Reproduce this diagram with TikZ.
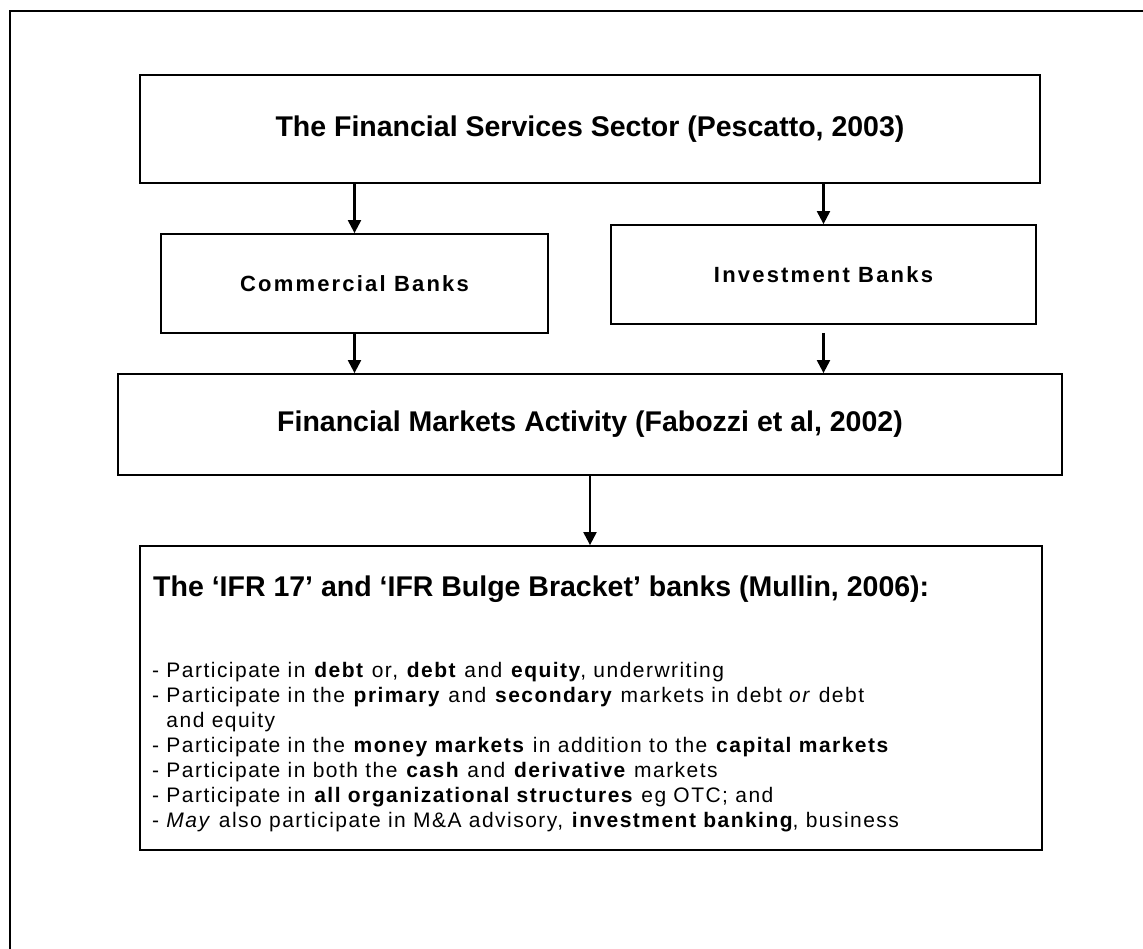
\documentclass[tikz,border=0pt]{standalone}
\usepackage{fontspec}
\setmainfont{Liberation Sans}
\usetikzlibrary{arrows.meta}
\begin{document}
\begin{tikzpicture}[x=1pt,y=-1pt,
  box/.style={draw,line width=1.8pt,rectangle,inner sep=0pt,align=center},
  arr/.style={line width=2.2pt,-{Triangle[width=13pt,length=13pt]}},
  big/.style={font=\bfseries\fontsize{28.5}{32}\selectfont},
  mid/.style={font=\bfseries\fontsize{22}{26}\selectfont\addfontfeature{LetterSpace=10}},
  head/.style={font=\bfseries\fontsize{28.5}{34}\selectfont},
  body/.style={font=\fontsize{21}{25}\selectfont\addfontfeature{LetterSpace=7},align=left,inner sep=0pt}]
\useasboundingbox (0,0) rectangle (1143,949);
\fill[white] (0,0) rectangle (1143,949);
\draw[line width=1.8pt] (10,949) -- (10,11) -- (1143,11);
\node[box,big,minimum width=900pt,minimum height=108pt] (fss) at (590,129) {The Financial Services Sector (Pescatto, 2003)};
\node[box,mid,minimum width=387pt,minimum height=99pt] (cbk) at (354.5,283.5) {Commercial Banks};
\node[box,mid,minimum width=425pt,minimum height=99pt] (ibk) at (823.5,274.5) {Investment Banks};
\node[box,big,minimum width=944pt,minimum height=101pt] (fma) at (590,424.5) {Financial Markets Activity (Fabozzi et al, 2002)};
\node[box,minimum width=902pt,minimum height=304pt] (ifr) at (591,698) {};
\node[head,anchor=west,inner sep=0pt] (ifrhead) at (153,589) {The ‘IFR 17’ and ‘IFR Bulge Bracket’ banks (Mullin, 2006):};
\node[body,anchor=north west] (ifrbody) at (152,662) {%
- Participate in \textbf{debt} or, \textbf{debt} and \textbf{equity}, underwriting\\
- Participate in the \textbf{primary} and \textbf{secondary} markets in debt \textit{or} debt\\
\phantom{- }and equity\\
- Participate in the \textbf{money markets} in addition to the \textbf{capital markets}\\
- Participate in both the \textbf{cash} and \textbf{derivative} markets\\
- Participate in \textbf{all organizational structures} eg OTC; and\\
- \textit{May} also participate in M\&A advisory, \textbf{investment banking}, business};
\draw[arr] (fss.south -| cbk.north) -- (cbk.north);
\draw[arr] (fss.south -| ibk.north) -- (ibk.north);
\draw[arr] (cbk.south) -- (cbk.south |- fma.north);
\draw[arr] ([yshift=-8pt]ibk.south) -- (ibk.south |- fma.north);
\draw[arr] (fma.south) -- (fma.south |- ifr.north);
\end{tikzpicture}
\end{document}
